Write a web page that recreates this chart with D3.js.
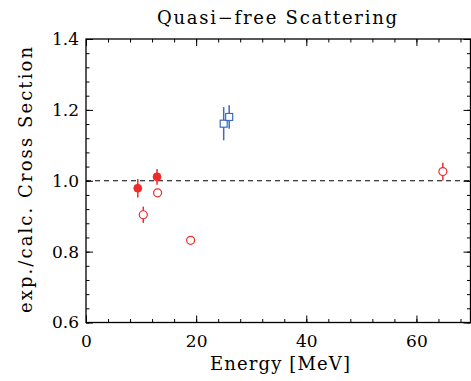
<!DOCTYPE html>
<html>
<head>
<meta charset="utf-8">
<script src="https://cdn.jsdelivr.net/npm/d3@7"></script>
<style>
  html, body { margin: 0; padding: 0; background: #fff; }
  svg text { font-family: "DejaVu Serif", "Liberation Serif", serif; fill: #000; }
</style>
</head>
<body>
<div id="chart"></div>
<script>
// Measured points: [energy, ratio, error]
const FILLED_RED = [[9.4, 0.979, 0.026], [12.9, 1.011, 0.022]];
const OPEN_RED = [[10.4, 0.904, 0.023], [13.0, 0.966, 0.0], [19.0, 0.832, 0.0], [64.8, 1.026, 0.025]];
const OPEN_BLUE = [[25.0, 1.161, 0.047], [26.0, 1.180, 0.033]];
const X_TICKS = [0, 20, 40, 60];
const Y_TICKS = [0.6, 0.8, 1.0, 1.2, 1.4];
const REF_LINE = 1.0;

const W = 471, H = 381;
const RED = "#ee2b2b", BLUE = "#3d6bbd";

const svg = d3.select("#chart").append("svg")
    .attr("width", W)
    .attr("height", H);

const x = d3.scaleLinear().domain([0, 70]).range([86, 471.5]);
const y = d3.scaleLinear().domain([0.6, 1.4]).range([322.5, 39]);

const xMinor = d3.range(0, 71, 4);
const yMinor = d3.range(0, 21).map(i => 0.6 + i * 0.04);

// frame ticks on all four sides
const axes = svg.append("g");
const tickGroup = (gen, pos) => axes.append("g").attr("transform", pos).call(gen)
    .call(g => g.select(".domain").remove())
    .call(g => g.selectAll("line").attr("stroke", "#000").attr("stroke-width", 1));

tickGroup(d3.axisBottom(x).tickValues(xMinor).tickSize(-3.5).tickFormat(""), `translate(0,${y(0.6)})`);
tickGroup(d3.axisTop(x).tickValues(xMinor).tickSize(-3.5).tickFormat(""), `translate(0,${y(1.4)})`);
tickGroup(d3.axisLeft(y).tickValues(yMinor).tickSize(-3.5).tickFormat(""), `translate(${x(0)},0)`);
tickGroup(d3.axisRight(y).tickValues(yMinor).tickSize(-3.5).tickFormat(""), `translate(470.5,0)`);

tickGroup(d3.axisBottom(x).tickValues(X_TICKS).tickSize(-7).tickFormat(""), `translate(0,${y(0.6)})`);
tickGroup(d3.axisTop(x).tickValues(X_TICKS).tickSize(-7).tickFormat(""), `translate(0,${y(1.4)})`);
tickGroup(d3.axisLeft(y).tickValues(Y_TICKS).tickSize(-7).tickFormat(""), `translate(${x(0)},0)`);
tickGroup(d3.axisRight(y).tickValues(Y_TICKS).tickSize(-7).tickFormat(""), `translate(470.5,0)`);

// labels
const xLab = svg.append("g").attr("transform", `translate(0,${y(0.6)})`)
    .call(d3.axisBottom(x).tickValues(X_TICKS).tickSize(0).tickPadding(12).tickFormat(d3.format("d")));
xLab.select(".domain").remove();
xLab.selectAll("text").style("font-size", "17px").style("font-family", "'DejaVu Serif', serif");

const yLab = svg.append("g").attr("transform", `translate(${x(0)},0)`)
    .call(d3.axisLeft(y).tickValues(Y_TICKS).tickSize(0).tickPadding(7).tickFormat(d3.format(".1f")));
yLab.select(".domain").remove();
yLab.selectAll("text").style("font-size", "17px").style("font-family", "'DejaVu Serif', serif");

// frame
svg.append("rect")
    .attr("x", x(0)).attr("y", y(1.4))
    .attr("width", 470.5 - x(0)).attr("height", y(0.6) - y(1.4))
    .attr("fill", "none").attr("stroke", "#000").attr("stroke-width", 1.3);

// reference line
svg.append("line")
    .attr("x1", x(0)).attr("x2", 470.5)
    .attr("y1", y(REF_LINE)).attr("y2", y(REF_LINE))
    .attr("stroke", "#000").attr("stroke-width", 1)
    .attr("stroke-dasharray", "5,4");

// error bars
const errBars = (data, color) => svg.append("g").selectAll("line").data(data.filter(d => d[2] > 0)).join("line")
    .attr("x1", d => x(d[0])).attr("x2", d => x(d[0]))
    .attr("y1", d => y(d[1] - d[2])).attr("y2", d => y(d[1] + d[2]))
    .attr("stroke", color).attr("stroke-width", 1.5);

errBars(FILLED_RED, RED);
errBars(OPEN_RED, RED);
errBars(OPEN_BLUE, BLUE);

svg.append("g").selectAll("circle").data(OPEN_RED).join("circle")
    .attr("cx", d => x(d[0])).attr("cy", d => y(d[1])).attr("r", 4)
    .attr("fill", "#fff").attr("stroke", RED).attr("stroke-width", 1.2);

svg.append("g").selectAll("circle").data(FILLED_RED).join("circle")
    .attr("cx", d => x(d[0])).attr("cy", d => y(d[1])).attr("r", 4)
    .attr("fill", RED).attr("stroke", RED).attr("stroke-width", 0.8);

svg.append("g").selectAll("rect").data(OPEN_BLUE).join("rect")
    .attr("x", d => x(d[0]) - 3.5).attr("y", d => y(d[1]) - 3.5)
    .attr("width", 7).attr("height", 7)
    .attr("fill", "#fff").attr("stroke", BLUE).attr("stroke-width", 1.2);

// titles
svg.append("text")
    .attr("x", 277).attr("y", 24)
    .attr("text-anchor", "middle")
    .attr("textLength", 240).attr("lengthAdjust", "spacing")
    .style("font-size", "18px")
    .text("Quasi\u2212free Scattering");

svg.append("text")
    .attr("x", 280).attr("y", 370)
    .attr("text-anchor", "middle")
    .attr("textLength", 140).attr("lengthAdjust", "spacing")
    .style("font-size", "18px")
    .text("Energy [MeV]");

svg.append("text")
    .attr("transform", `translate(32,180) rotate(-90)`)
    .attr("text-anchor", "middle")
    .attr("textLength", 266).attr("lengthAdjust", "spacing")
    .style("font-size", "18px")
    .text("exp./calc. Cross Section");
</script>
</body>
</html>
